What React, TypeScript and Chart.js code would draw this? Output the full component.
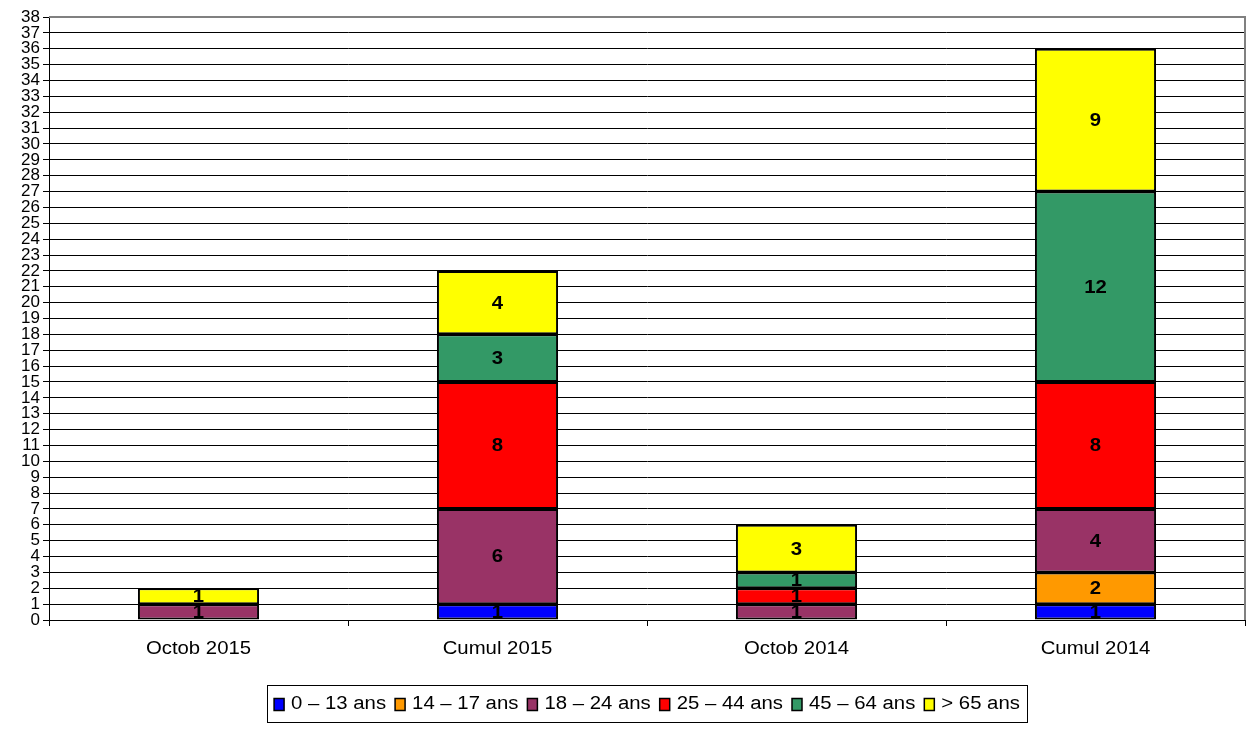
import React, { useEffect, useRef } from "react";
import { Chart, registerables } from "chart.js";

Chart.register(...registerables);

const categories = ["Octob 2015", "Cumul 2015", "Octob 2014", "Cumul 2014"];
const seriesLabels = ["0 – 13 ans", "14 – 17 ans", "18 – 24 ans", "25 – 44 ans", "45 – 64 ans", "> 65 ans"];
const seriesColors = ["#0000FF", "#FF9900", "#993366", "#FF0000", "#339966", "#FFFF00"];
const age0to13 = [0, 1, 0, 1];
const age14to17 = [0, 0, 0, 2];
const age18to24 = [1, 6, 1, 4];
const age25to44 = [0, 8, 1, 8];
const age45to64 = [0, 3, 1, 12];
const age65plus = [1, 4, 3, 9];
const seriesValues = [age0to13, age14to17, age18to24, age25to44, age45to64, age65plus];
const yMax = 38;

const FONT = "'Liberation Sans', Arial, sans-serif";
const STRETCH = 1.13;

const plotBorder = {
  id: "plotBorder",
  beforeDatasetsDraw(chart: any) {
    const { ctx, chartArea } = chart;
    ctx.save();
    ctx.strokeStyle = "#808080";
    ctx.lineWidth = 2;
    ctx.beginPath();
    ctx.moveTo(chartArea.left, chartArea.top);
    ctx.lineTo(chartArea.right, chartArea.top);
    ctx.lineTo(chartArea.right, chartArea.bottom);
    ctx.stroke();
    ctx.restore();
  },
};

function stretchedText(ctx: any, text: string, x: number, y: number) {
  ctx.save();
  ctx.translate(x, y);
  ctx.scale(STRETCH, 1);
  ctx.fillText(text, 0, 0);
  ctx.restore();
}

const xLabels = {
  id: "xLabels",
  afterDraw(chart: any) {
    const { ctx, chartArea } = chart;
    const xs = chart.scales.x;
    ctx.save();
    ctx.font = `18px ${FONT}`;
    ctx.fillStyle = "#000";
    ctx.textAlign = "center";
    ctx.textBaseline = "middle";
    categories.forEach((c, i) => {
      stretchedText(ctx, c, xs.getPixelForTick(i), chartArea.bottom + 29);
    });
    ctx.restore();
  },
};

const dataLabels = {
  id: "dataLabels",
  afterDatasetsDraw(chart: any) {
    const { ctx } = chart;
    ctx.save();
    ctx.font = `bold 18px ${FONT}`;
    ctx.fillStyle = "#000";
    ctx.textAlign = "center";
    ctx.textBaseline = "middle";
    chart.data.datasets.forEach((ds: any, di: number) => {
      const meta = chart.getDatasetMeta(di);
      meta.data.forEach((el: any, i: number) => {
        const v = ds.data[i];
        if (!v) return;
        stretchedText(ctx, String(v), el.x, (el.y + el.base) / 2 + 1);
      });
    });
    ctx.restore();
  },
};

const boxLegend = {
  id: "boxLegend",
  afterDraw(chart: any) {
    const { ctx } = chart;
    ctx.save();
    ctx.font = `18px ${FONT}`;
    const boxW = 10;
    const gapBT = 7;
    const gapItem = 9;
    const pad = 7;
    const widths = seriesLabels.map((l) => ctx.measureText(l).width * STRETCH);
    const total = widths.reduce((a, w) => a + boxW + gapBT + w, 0) + gapItem * (seriesLabels.length - 1) + pad * 2;
    const cx = 647;
    const left = cx - total / 2;
    const top = 685;
    const h = 37;
    ctx.strokeStyle = "#000";
    ctx.lineWidth = 1;
    ctx.strokeRect(Math.round(left) + 0.5, top + 0.5, Math.round(total), h);
    let x = left + pad;
    const cy = top + h / 2 + 1;
    ctx.textBaseline = "middle";
    ctx.textAlign = "left";
    seriesLabels.forEach((l, i) => {
      ctx.fillStyle = seriesColors[i];
      ctx.fillRect(x, cy - 6, boxW, 12);
      ctx.strokeStyle = "#000";
      ctx.lineWidth = 1.5;
      ctx.strokeRect(x, cy - 6, boxW, 12);
      x += boxW + gapBT;
      ctx.fillStyle = "#000";
      stretchedText(ctx, l, x, cy);
      x += widths[i] + gapItem;
    });
    ctx.restore();
  },
};

export default function App() {
  const ref = useRef<HTMLCanvasElement>(null);
  useEffect(() => {
    if (!ref.current) return;
    const chart = new Chart(ref.current, {
      type: "bar",
      data: {
        labels: categories,
        datasets: seriesValues.map((vals, i) => ({
          label: seriesLabels[i],
          data: vals,
          backgroundColor: seriesColors[i],
          borderColor: "#000",
          borderWidth: 2,
          borderSkipped: false,
          categoryPercentage: 1,
          barPercentage: 0.405,
        })),
      },
      options: {
        animation: false,
        responsive: true,
        maintainAspectRatio: false,
        layout: { padding: { top: 17, right: 9, left: 0, bottom: 0 } },
        plugins: { legend: { display: false }, tooltip: { enabled: false } },
        scales: {
          x: {
            stacked: true,
            grid: { drawOnChartArea: false, drawTicks: true, tickLength: 6, color: "#000", offset: true },
            border: { color: "#000", width: 1 },
            ticks: { color: "rgba(0,0,0,0)", font: { family: FONT, size: 18 }, padding: 8, maxRotation: 0 },
            afterFit(scale: any) {
              scale.height = 111;
            },
          },
          y: {
            stacked: true,
            min: 0,
            max: yMax,
            grid: { color: "#000", lineWidth: 1, tickLength: 6 },
            border: { color: "#000", width: 1 },
            ticks: {
              stepSize: 1,
              autoSkip: false,
              color: "#000",
              font: { family: FONT, size: 17, lineHeight: 1 },
              padding: 3,
            },
            afterFit(scale: any) {
              scale.width = 49;
            },
          },
        },
      },
      plugins: [plotBorder, dataLabels, xLabels, boxLegend],
    });
    return () => chart.destroy();
  }, []);
  return (
    <div style={{ position: "absolute", left: 0, top: 0, width: 1254, height: 731, background: "#fff" }}>
      <canvas ref={ref} />
    </div>
  );
}
